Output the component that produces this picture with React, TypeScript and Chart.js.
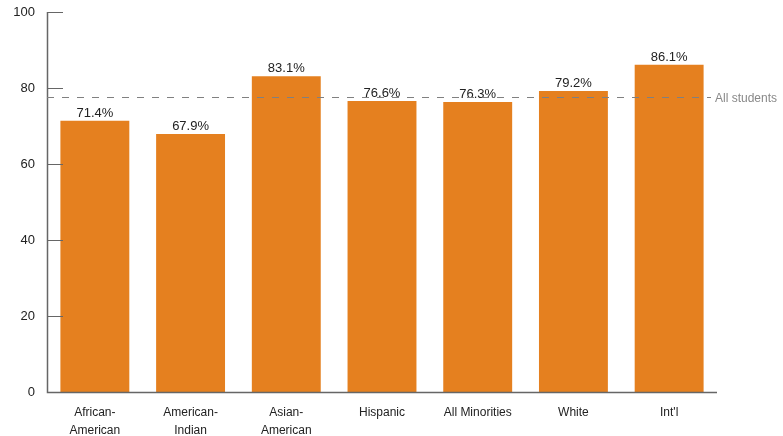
import React, { useEffect, useRef } from "react";
import { Chart, registerables } from "chart.js";

Chart.register(...registerables);

const categories: (string | string[])[] = [
  ["African-", "American"],
  ["American-", "Indian"],
  ["Asian-", "American"],
  "Hispanic",
  "All Minorities",
  "White",
  "Int'l",
];
const values = [71.4, 67.9, 83.1, 76.6, 76.3, 79.2, 86.1];
const allStudents = 77.5;
const yTicks = [0, 20, 40, 60, 80, 100];

const FONT = "'Liberation Sans', Arial, sans-serif";

export default function App() {
  const ref = useRef<HTMLCanvasElement | null>(null);
  useEffect(() => {
    if (!ref.current) return;
    const overlay = {
      id: "overlay",
      afterDatasetsDraw(chart: any) {
        const ctx = chart.ctx;
        const y = chart.scales.y;
        const area = chart.chartArea;
        ctx.save();
        ctx.strokeStyle = "#666";
        ctx.lineWidth = 1;
        yTicks.forEach((t) => {
          if (t === 0) return;
          const py = Math.round(y.getPixelForValue(t)) + 0.5;
          ctx.beginPath();
          ctx.moveTo(area.left, py);
          ctx.lineTo(area.left + 16, py);
          ctx.stroke();
        });
        ctx.beginPath();
        ctx.moveTo(area.left + 0.5, area.top);
        ctx.lineTo(area.left + 0.5, area.bottom + 0.5);
        ctx.lineTo(area.right, area.bottom + 0.5);
        ctx.lineWidth = 1.5;
        ctx.stroke();
        const meta = chart.getDatasetMeta(0);
        ctx.fillStyle = "#222";
        ctx.font = `13px ${FONT}`;
        ctx.textAlign = "center";
        ctx.textBaseline = "bottom";
        meta.data.forEach((bar: any, i: number) => {
          ctx.fillText(values[i].toFixed(1) + "%", bar.x, bar.y - 1);
        });
        const dy = Math.round(y.getPixelForValue(allStudents)) + 0.5;
        ctx.setLineDash([7, 8]);
        ctx.strokeStyle = "#808080";
        ctx.lineWidth = 1;
        ctx.beginPath();
        ctx.moveTo(area.left, dy);
        ctx.lineTo(area.right - 6, dy);
        ctx.stroke();
        ctx.setLineDash([]);
        ctx.fillStyle = "#888";
        ctx.font = `12px ${FONT}`;
        ctx.textAlign = "left";
        ctx.textBaseline = "middle";
        ctx.fillText("All students", area.right - 2, dy + 1);
        ctx.restore();
      },
    };
    const chart = new Chart(ref.current, {
      type: "bar",
      data: {
        labels: categories,
        datasets: [
          {
            data: values,
            backgroundColor: "#E5801F",
            categoryPercentage: 0.72,
            barPercentage: 1,
          },
        ],
      },
      options: {
        animation: false,
        responsive: true,
        maintainAspectRatio: false,
        layout: { padding: { top: 12, right: 66, left: 0, bottom: 0 } },
        plugins: { legend: { display: false }, tooltip: { enabled: false } },
        scales: {
          x: {
            grid: { display: false, drawTicks: false },
            border: { display: false },
            ticks: {
              color: "#222",
              font: { family: FONT, size: 12, lineHeight: 1.5 },
              padding: 12,
              maxRotation: 0,
              autoSkip: false,
            },
            afterFit(s: any) {
              s.height = 44;
              s.paddingLeft = 0;
              s.paddingRight = 0;
            },
          },
          y: {
            min: 0,
            max: 100,
            afterBuildTicks(s: any) {
              s.ticks = yTicks.map((v) => ({ value: v }));
            },
            grid: { display: false, drawTicks: false },
            border: { display: false },
            ticks: {
              color: "#222",
              font: { family: FONT, size: 13 },
              padding: 12,
            },
            afterFit(s: any) {
              s.width = 47;
              s.paddingTop = 0;
              s.paddingBottom = 0;
            },
          },
        },
      },
      plugins: [overlay],
    });
    return () => chart.destroy();
  }, []);
  return (
    <div style={{ position: "fixed", left: 0, top: 0, width: 783, height: 436, background: "#fff" }}>
      <canvas ref={ref} />
    </div>
  );
}
